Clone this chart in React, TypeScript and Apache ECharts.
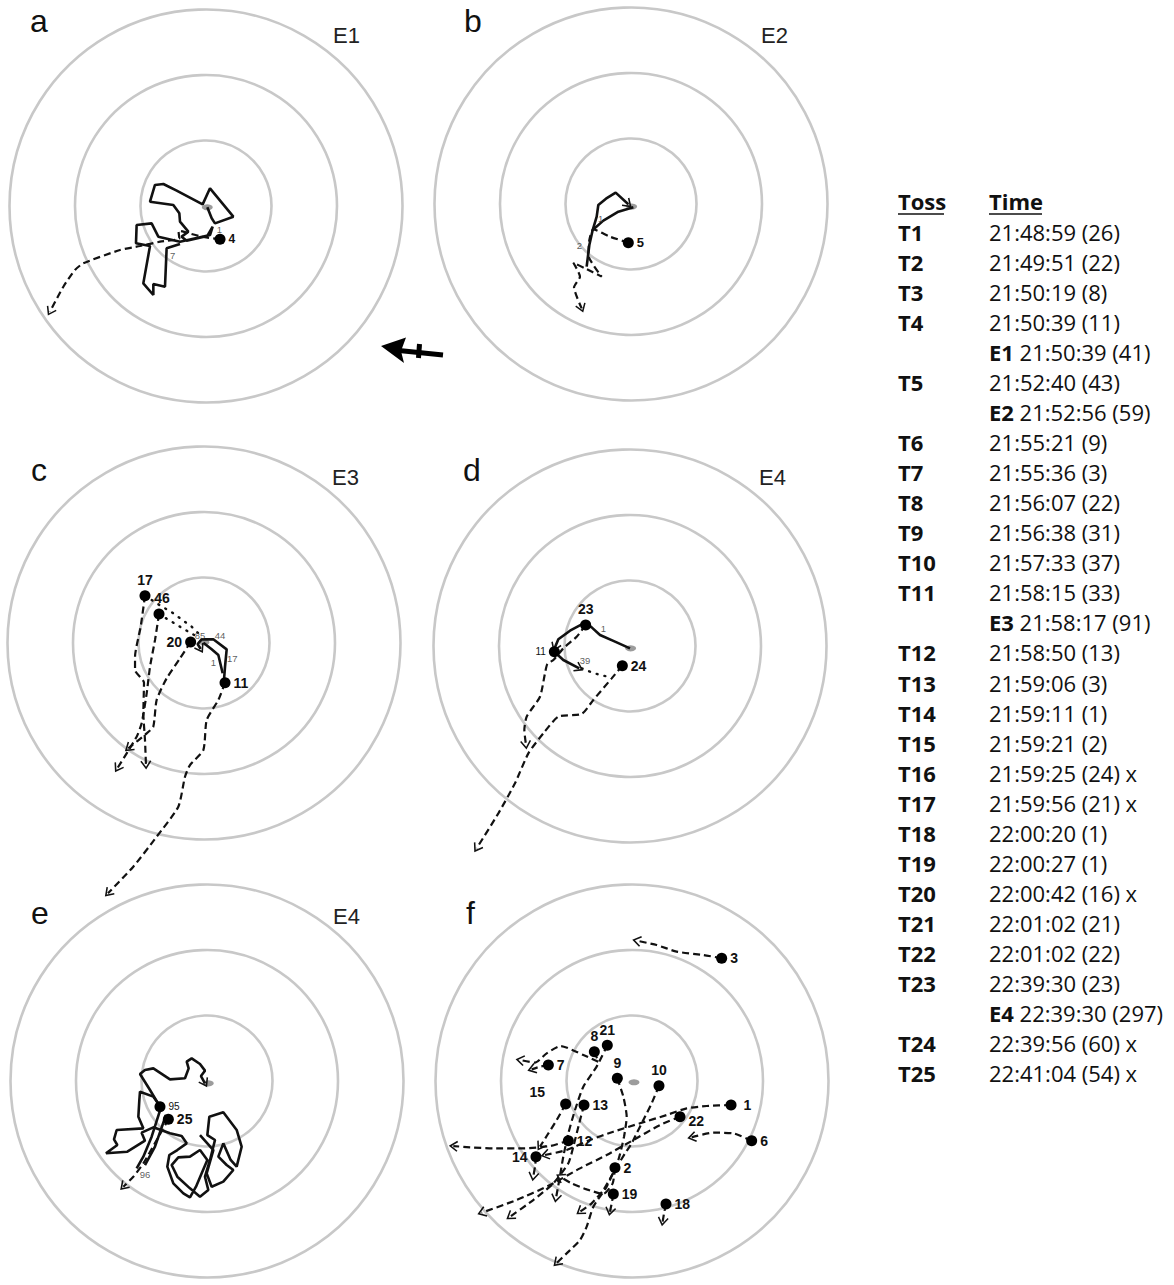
import { useEffect, useRef } from "react";
import * as echarts from "echarts";

type Pt = [number, number];
type Lbl = [string, number, number];

// ---------- DATA (units: ring radii 10 / 20 / 30, x east, y north) ----------
const ringRadii = [10, 20, 30];
const releasePoints: Pt[] = [[0.2, -0.2], [0.1, -0.4], [0, 0.1], [0.1, -0.36], [0.2, -0.36], [0.31, -0.2]];

// panel a
const aE1: Pt[] = [[0.2,-0.2],[0.87,-1.88],[1.37,-2.65],[4.17,-1.63],[0.61,2.7],[-0.51,0.25],[-4.48,2.34],[-6.51,3.36],[-7.79,3.21],[-8.55,0.66],[-4.99,0.15],[-4.07,-1.12],[-3.97,-2.39],[-2.7,-3.92],[-3.72,-4.68],[-2.95,-5.29],[0.2,-4.58],[1.02,-3.16],[0.61,-4.43],[-3.97,-5.45],[-7.28,-4.68],[-8.3,-2.65],[-10.59,-2.9],[-10.69,-5.7],[-8.55,-6.11],[-9.57,-11.81],[-8.04,-13.59],[-8.04,-11.91],[-6.26,-12.32],[-6.01,-6.46],[-3.97,-5.8]];
const aT4: Pt[] = [[2.14,-5.09],[-0.66,-4.68],[-3.46,-3.92],[-4.22,-3.77],[-4.07,-4.94],[-7.02,-5.45],[-10.08,-6.11],[-13.13,-6.72],[-18.73,-8.75],[-20.0,-9.77],[-21.78,-12.32],[-23.82,-16.13]];
const aDots: Lbl[] = [["4", 2.14, -5.09]];
const aMarks: Lbl[] = [["1", 2.04, -3.56], ["7", -5.09, -7.63]];

// panel b
const bE2a: Pt[] = [[-6.77,-9.57],[-6.36,-6.26],[-5.85,-3.97],[-4.22,-2.54],[-1.93,-1.17],[0.36,-0.51]];
const bE2b: Pt[] = [[-5.85,-3.97],[-5.24,-1.93],[-4.99,-0.15],[-3.82,0.81],[-2.34,1.73],[-0.41,-0.05]];
const bT5: Pt[] = [[-0.41,-5.9],[-3.21,-4.99],[-5.75,-3.87],[-6.36,-5.5],[-6.51,-7.79],[-4.48,-11.09],[-7.02,-9.82],[-8.8,-8.96],[-7.79,-11.09],[-8.7,-12.72],[-7.53,-15.93]];
const bDots: Lbl[] = [["5", -0.41, -5.9]];
const bMarks: Lbl[] = [["1", -4.63, -2.19], ["2", -7.89, -6.41]];

// panel c
const cE3a: Pt[] = [[3.05,-5.65],[3.21,-3.61],[3.46,-0.97],[1.42,0.56],[-0.36,0.56],[-0.97,-0.15],[-0.51,-0.92]];
const cE3b: Pt[] = [[-0.1,0.05],[1.17,-0.97],[2.19,-1.83],[2.85,-4.63]];
const c17: Pt[] = [[-9.01,7.23],[-9.67,2.49],[-10.53,-2.09],[-10.53,-4.12],[-9.16,-6.06],[-9.26,-10.74],[-9.01,-14.81],[-8.86,-18.63]];
const c46: Pt[] = [[-6.87,4.43],[-7.48,0.46],[-8.24,-3.61],[-8.75,-7.68],[-9.52,-12.26],[-10.28,-14.3],[-13.23,-19.13]];
const c20: Pt[] = [[-2.04,0.15],[-3.66,-2.34],[-5.7,-5.39],[-7.23,-8.7],[-7.74,-12.77],[-8.75,-13.79],[-11.55,-16.08]];
const c11: Pt[] = [[3.21,-6.06],[2.19,-8.7],[0.41,-11.76],[-0.1,-16.34],[-2.14,-18.63],[-2.9,-20.41],[-3.92,-24.99],[-7.23,-29.57],[-10.79,-34.15],[-14.66,-38.22]];
const c17dots: Pt[] = [[-9.01,7.23],[-7.23,6.06],[-4.68,4.53],[-1.88,2.49],[-0.36,0.97]];
const c46dots: Pt[] = [[-6.87,4.43],[-4.68,3.1],[-2.39,1.73],[-0.61,0.71]];
const cDots: Lbl[] = [["17", -9.01, 7.23], ["46", -6.87, 4.43], ["20", -2.04, 0.15], ["11", 3.21, -6.06]];
const cMarks: Lbl[] = [["85", -0.61, 1.22], ["44", 2.44, 1.22], ["17", 4.33, -2.34], ["1", 1.42, -3.0]];

// panel d
const dE4a: Pt[] = [[0,-0.36],[-2.29,0.66],[-4.58,1.68],[-5.85,2.85],[-6.87,3.56],[-9.16,2.34],[-10.94,1.02],[-11.45,-0.2]];
const dE4b: Pt[] = [[-11.55,-0.87],[-10.18,-2.14],[-7.74,-3.41]];
const dT23: Pt[] = [[-6.77,3.21],[-8.14,1.42],[-10.18,-0.36],[-11.7,-2.14],[-12.62,-2.75],[-12.98,-4.17],[-13.74,-7.74],[-15.78,-10.79],[-16.13,-12.82],[-15.88,-15.11]];
const dT24: Pt[] = [[-1.17,-3.0],[-2.8,-4.94],[-5.6,-8.24],[-7.38,-10.38],[-10.94,-10.79],[-13.23,-13.33],[-15.52,-16.39],[-17.56,-20.97],[-20.1,-25.55],[-23.41,-30.89]];
const dDotted: Pt[] = [[-7.38,-3.41],[-6.11,-3.92],[-4.58,-4.43],[-2.8,-4.78]];
const dDots: Lbl[] = [["23", -6.77, 3.21], ["11", -11.55, -0.87], ["24", -1.17, -3.0]];
const dMarks: Lbl[] = [["1", -4.07, 2.6], ["39", -6.87, -2.14]];

// panel e
const eE4loop: Pt[] = [[-6.92,-4.17],[-8.19,-2.39],[-10.23,-1.63],[-10.33,-2.9],[-10.48,-5.45],[-9.72,-7.23],[-13.79,-7.48],[-14.2,-8.91],[-13.69,-9.77],[-15.42,-11.04],[-12.16,-10.79],[-9.47,-9.11],[-9.98,-7.89],[-8.19,-7.07],[-5.65,-7.99],[-3.87,-8.4],[-3.1,-9.52],[-4.53,-10.54],[-5.75,-11.3],[-6.06,-13.08],[-5.14,-15.63],[-3.61,-17.15],[-2.6,-17.76],[-1.68,-16.14],[-0.81,-14.1],[0.05,-12.06],[-1.07,-10.54],[-2.6,-11.55],[-4.38,-11.66],[-5.4,-12.83],[-4.53,-14.61],[-2.6,-16.39],[-1.07,-17.66],[0.2,-16.64],[-0.31,-14.61],[0.46,-12.06],[1.22,-9.01],[0.05,-8.25],[0.36,-5.45],[2.49,-4.78],[4.53,-7.48],[5.29,-10.03],[4.53,-13.08],[3.61,-12.06],[2.49,-9.52],[1.73,-11.55],[3.0,-12.83],[4.02,-13.59],[2.49,-15.37],[0.71,-16.14],[-0.05,-14.1],[0.97,-10.54],[-1.07,-8.25]];
const eE4top: Pt[] = [[-7.18,-3.92],[-8.7,-1.37],[-10.23,1.07],[-9.47,1.68],[-8.19,1.93],[-5.65,0.25],[-3.36,0.41],[-2.8,1.93],[-3.1,2.95],[-2.34,3.46],[-1.07,2.6],[-0.31,1.58],[-0.92,0.76],[-0.31,-0.36]];
const eE4legA: Pt[] = [[-7.07,-4.17],[-8.45,-8.5],[-9.72,-11.55],[-10.74,-13.33]];
const eE4legB: Pt[] = [[-6.26,-5.19],[-7.94,-10.03],[-9.47,-12.83]];
const eT25: Pt[] = [[-5.9,-5.85],[-7.68,-9.01],[-9.72,-12.57],[-11.25,-14.61],[-12.77,-16.14]];
const eDots: Lbl[] = [["95", -7.18, -3.92], ["25", -5.9, -5.85]];
const eMarks: Lbl[] = [["96", -9.47, -14.2]];

// panel f (tosses T1..T22 that were not escorted)
const fT1: Pt[] = [[15.12,-3.66],[11.4,-3.82],[8.35,-4.17],[5.29,-5.19],[1.22,-6.46],[-2.85,-7.74],[-6.41,-9.01],[-9.98,-10.54],[-13.28,-11.3]];
const fT2: Pt[] = [[-2.6,-13.23],[-2.95,-15.63],[-4.38,-17.25],[-6.92,-16.54],[-9.21,-15.63],[-10.99,-14.61]];
const fT3: Pt[] = [[13.69,18.73],[10.89,19.24],[6.82,19.75],[3.77,20.76],[0.71,21.42]];
const fT6: Pt[] = [[18.27,-9.11],[15.47,-7.99],[12.42,-7.89],[9.11,-8.6]];
const fT7: Pt[] = [[-12.77,2.44],[-14.05,2.19],[-15.32,1.78]];
const fT8: Pt[] = [[-5.75,4.48],[-5.14,2.95],[-7.43,3.97],[-10.89,5.34],[-13.03,4.22],[-14.81,2.8],[-17.1,3.21]];
const fT9: Pt[] = [[-2.24,0.41],[-1.32,-2.39],[-0.81,-5.45],[-1.22,-8.5],[-2.09,-12.06],[-3.87,-16.14],[-5.9,-19.19],[-6.92,-22.24],[-7.94,-24.28],[-9.98,-26.32],[-11.5,-27.79]];
const fT10: Pt[] = [[4.12,-0.71],[3.0,-3.41],[1.73,-5.96],[0.71,-7.99],[-0.05,-9.52],[-1.07,-11.05],[-2.6,-13.59],[-4.38,-16.64],[-6.16,-18.68],[-7.94,-19.95]];
const fT12: Pt[] = [[-9.72,-9.11],[-12.52,-9.93],[-16.59,-10.28],[-21.17,-10.28],[-24.74,-10.13],[-27.28,-9.93]];
const fT13: Pt[] = [[-7.33,-3.66],[-8.19,-6.97],[-8.96,-10.03],[-9.72,-12.57],[-12.01,-15.63],[-15.07,-18.17],[-18.63,-20.72]];
const fT14: Pt[] = [[-14.66,-11.55],[-14.81,-13.08],[-15.07,-14.61]];
const fT15: Pt[] = [[-10.13,-3.51],[-11.5,-5.96],[-12.93,-8.25],[-14.05,-10.03]];
const fT18: Pt[] = [[5.19,-18.78],[4.89,-20.21],[4.68,-21.48]];
const fT19: Pt[] = [[-2.85,-17.25],[-3.1,-18.68],[-3.36,-19.95]];
const fT21: Pt[] = [[-3.77,5.45],[-5.4,2.19],[-7.43,-0.87],[-8.7,-4.43],[-9.72,-7.99],[-10.49,-11.55],[-11.1,-15.12],[-11.61,-17.92]];
const fT22: Pt[] = [[7.33,-5.45],[4.28,-6.72],[0.2,-9.01],[-3.87,-11.3],[-7.94,-13.34],[-12.52,-15.88],[-17.61,-18.17],[-22.96,-20.11]];
const fDots: Lbl[] = [["1",15.12,-3.66],["2",-2.6,-13.23],["3",13.69,18.73],["6",18.27,-9.11],["7",-12.77,2.44],["8",-5.75,4.48],["9",-2.24,0.41],["10",4.12,-0.71],["12",-9.72,-9.11],["13",-7.33,-3.66],["14",-14.66,-11.55],["15",-10.13,-3.51],["18",5.19,-18.78],["19",-2.85,-17.25],["21",-3.77,5.45],["22",7.33,-5.45]];

// table
const tableToss = ["T1","T2","T3","T4","","T5","","T6","T7","T8","T9","T10","T11","","T12","T13","T14","T15","T16","T17","T18","T19","T20","T21","T22","T23","","T24","T25"];
const tableEvent = ["","","","","E1","","E2","","","","","","","E3","","","","","","","","","","","","","E4","",""];
const tableTime = ["21:48:59 (26)","21:49:51 (22)","21:50:19 (8)","21:50:39 (11)","21:50:39 (41)","21:52:40 (43)","21:52:56 (59)","21:55:21 (9)","21:55:36 (3)","21:56:07 (22)","21:56:38 (31)","21:57:33 (37)","21:58:15 (33)","21:58:17 (91)","21:58:50 (13)","21:59:06 (3)","21:59:11 (1)","21:59:21 (2)","21:59:25 (24) x","21:59:56 (21) x","22:00:20 (1)","22:00:27 (1)","22:00:42 (16) x","22:01:02 (21)","22:01:02 (22)","22:39:30 (23)","22:39:30 (297)","22:39:56 (60) x","22:41:04 (54) x"];

const panelLetters = ["a", "b", "c", "d", "e", "f"];
const panelTags = ["E1", "E2", "E3", "E4", "E4", ""];

// ---------- LAYOUT ----------
const PX = 6.55; // px per unit
const CENTERS: Pt[] = [[206, 206], [631, 204], [204, 643], [630, 646], [207, 1081], [632, 1081]];
const LETTER_POS: Pt[] = [[30, 21], [464, 21], [31, 470], [463, 470], [31, 913], [466, 913]];
const TAG_POS: Pt[] = [[333, 35], [761, 35], [332, 477], [759, 477], [333, 916], [0, 0]];

type Kind = "solid" | "dashed" | "dotted";
type Traj = { panel: number; pts: Pt[]; kind: Kind; arrow: boolean };
const TRAJ: Traj[] = [
  { panel: 0, pts: aE1, kind: "solid", arrow: false },
  { panel: 0, pts: aT4, kind: "dashed", arrow: true },
  { panel: 1, pts: bE2a, kind: "solid", arrow: false },
  { panel: 1, pts: bE2b, kind: "solid", arrow: true },
  { panel: 1, pts: bT5, kind: "dashed", arrow: true },
  { panel: 2, pts: cE3a, kind: "solid", arrow: true },
  { panel: 2, pts: cE3b, kind: "solid", arrow: false },
  { panel: 2, pts: c17, kind: "dashed", arrow: true },
  { panel: 2, pts: c46, kind: "dashed", arrow: true },
  { panel: 2, pts: c20, kind: "dashed", arrow: true },
  { panel: 2, pts: c11, kind: "dashed", arrow: true },
  { panel: 2, pts: c17dots, kind: "dotted", arrow: false },
  { panel: 2, pts: c46dots, kind: "dotted", arrow: false },
  { panel: 3, pts: dE4a, kind: "solid", arrow: true },
  { panel: 3, pts: dE4b, kind: "solid", arrow: true },
  { panel: 3, pts: dT23, kind: "dashed", arrow: true },
  { panel: 3, pts: dT24, kind: "dashed", arrow: true },
  { panel: 3, pts: dDotted, kind: "dotted", arrow: false },
  { panel: 4, pts: eE4loop, kind: "solid", arrow: false },
  { panel: 4, pts: eE4top, kind: "solid", arrow: true },
  { panel: 4, pts: eE4legA, kind: "solid", arrow: false },
  { panel: 4, pts: eE4legB, kind: "solid", arrow: false },
  { panel: 4, pts: eT25, kind: "dashed", arrow: true },
  ...[fT1, fT2, fT3, fT6, fT7, fT8, fT9, fT10, fT12, fT13, fT14, fT15, fT18, fT19, fT21, fT22].map(
    (pts) => ({ panel: 5, pts, kind: "dashed" as Kind, arrow: true })
  ),
];

type LL = { pos: string; size: number; bold: boolean; offset?: [number, number] };
const BIG: LL = { pos: "right", size: 14, bold: true };
const LABEL_LAYOUT: Record<string, LL> = {
  a4: { pos: "right", size: 12, bold: true },
  b5: { pos: "right", size: 13, bold: true },
  c17: { pos: "top", size: 14, bold: true },
  c46: { pos: "top", size: 14, bold: true, offset: [3, 0] },
  c20: { pos: "left", size: 14, bold: true },
  c11: BIG,
  d23: { pos: "top", size: 14, bold: true },
  d11: { pos: "left", size: 10, bold: false },
  d24: BIG,
  e95: { pos: "right", size: 10, bold: false },
  e25: BIG,
  f1: { pos: "right", size: 14, bold: true, offset: [4, 0] },
  f2: BIG, f3: BIG, f6: BIG, f7: BIG, f12: BIG, f13: BIG, f18: BIG, f19: BIG,
  f22: { pos: "right", size: 14, bold: true, offset: [0, 4] },
  f14: { pos: "left", size: 14, bold: true },
  f15: { pos: "left", size: 14, bold: true, offset: [-12, -12] },
  f8: { pos: "top", size: 14, bold: true },
  f9: { pos: "top", size: 14, bold: true },
  f10: { pos: "top", size: 14, bold: true },
  f21: { pos: "top", size: 14, bold: true },
};

const SANS = "'Liberation Sans', Arial, sans-serif";
const TABLE_FONT = "'Open Sans', 'Noto Sans', sans-serif";
const CHEVRON = "path://M0,0L9,13L7,14.5L0,4.5L-7,14.5L-9,13Z";

function buildOption() {
  const panelCount = CENTERS.length;
  const grid = CENTERS.map(([cx, cy]) => ({
    left: cx - 30 * PX, top: cy - 30 * PX, width: 60 * PX, height: 60 * PX,
  }));
  const axis = CENTERS.map((_, i) => ({ type: "value", gridIndex: i, min: -30, max: 30, show: false }));
  const series: any[] = [];

  for (let i = 0; i < panelCount; i++) {
    series.push({
      type: "custom", xAxisIndex: i, yAxisIndex: i, silent: true, z: 1, clip: false,
      data: ringRadii.map((r) => [r, 0]),
      renderItem: (_p: any, api: any) => {
        const c = api.coord([0, 0]);
        const e = api.coord([api.value(0), 0]);
        return {
          type: "circle",
          shape: { cx: c[0], cy: c[1], r: Math.abs(e[0] - c[0]) },
          style: { fill: "none", stroke: "#c8c8c8", lineWidth: 2.6 },
        };
      },
    });
    series.push({
      type: "scatter", xAxisIndex: i, yAxisIndex: i, silent: true, z: 2, clip: false,
      symbol: "circle", symbolSize: [11, 6], itemStyle: { color: "#9c9c9c", opacity: 1 },
      data: [releasePoints[i]],
    });
  }

  TRAJ.forEach((t) => {
    series.push({
      type: "line", xAxisIndex: t.panel, yAxisIndex: t.panel, data: t.pts,
      showSymbol: false, symbol: "none", clip: false, silent: true, z: 3,
      smooth: t.kind === "dashed" ? 0.2 : false,
      lineStyle: {
        color: "#111",
        width: t.kind === "solid" ? 2.6 : t.kind === "dashed" ? 2.2 : 2.4,
        type: t.kind === "solid" ? "solid" : t.kind === "dashed" ? [7, 4] : [1, 7],
        cap: t.kind === "dotted" ? "round" : "butt",
        opacity: 1,
      },
      emphasis: { disabled: true },
    });
  });

  for (let i = 0; i < panelCount; i++) {
    const arrows = TRAJ.filter((t) => t.panel === i && t.arrow).map((t) => {
      const n = t.pts.length;
      const p1 = t.pts[n - 2];
      const p2 = t.pts[n - 1];
      const ang = (Math.atan2(p2[1] - p1[1], p2[0] - p1[0]) * 180) / Math.PI;
      return { value: p2, symbolRotate: ang - 90 };
    });
    series.push({
      type: "scatter", xAxisIndex: i, yAxisIndex: i, silent: true, z: 4, clip: false,
      symbol: CHEVRON, symbolSize: [11, 9], itemStyle: { color: "#111", opacity: 1 }, data: arrows,
    });
  }

  const dotSets = [aDots, bDots, cDots, dDots, eDots, fDots];
  const markSets = [aMarks, bMarks, cMarks, dMarks, eMarks, []];
  dotSets.forEach((dots, i) => {
    series.push({
      type: "scatter", xAxisIndex: i, yAxisIndex: i, silent: true, z: 6, clip: false,
      symbol: "circle", symbolSize: 11, itemStyle: { color: "#000", opacity: 1 },
      data: dots.map(([n, x, y]) => {
        const L = LABEL_LAYOUT[panelLetters[i] + n] || BIG;
        return {
          value: [x, y],
          label: {
            show: true, formatter: n, position: L.pos, offset: L.offset || [0, 0], distance: 3,
            fontSize: L.size, fontWeight: L.bold ? "bold" : "normal", color: "#111", fontFamily: SANS,
          },
        };
      }),
    });
  });
  markSets.forEach((marks, i) => {
    if (!marks.length) return;
    series.push({
      type: "scatter", xAxisIndex: i, yAxisIndex: i, silent: true, z: 6, clip: false,
      symbolSize: 1, itemStyle: { color: "rgba(0,0,0,0)" },
      data: marks.map(([n, x, y]) => ({
        value: [x, y],
        label: { show: true, formatter: n, position: "inside", fontSize: 9.5, color: "#333", fontFamily: SANS },
      })),
    });
  });

  const elements: any[] = [];
  panelLetters.forEach((l, i) => {
    elements.push({
      type: "text", x: LETTER_POS[i][0], y: LETTER_POS[i][1], silent: true,
      style: { text: l, fontSize: 32, fontFamily: SANS, fill: "#111", verticalAlign: "middle" },
    });
    if (panelTags[i]) {
      elements.push({
        type: "text", x: TAG_POS[i][0], y: TAG_POS[i][1], silent: true,
        style: { text: panelTags[i], fontSize: 22, fontFamily: SANS, fill: "#222", verticalAlign: "middle" },
      });
    }
  });

  // table
  const X1 = 898, X2 = 989, Y0 = 231.5, STEP = 30.07;
  elements.push({
    type: "text", x: X1, y: 201, silent: true,
    style: { text: "Toss", fontSize: 22, fontWeight: "bold", fontFamily: TABLE_FONT, fill: "#111", verticalAlign: "middle" },
  });
  elements.push({
    type: "text", x: X2, y: 201, silent: true,
    style: { text: "Time", fontSize: 22, fontWeight: "bold", fontFamily: TABLE_FONT, fill: "#111", verticalAlign: "middle" },
  });
  elements.push({ type: "line", silent: true, shape: { x1: X1, y1: 214, x2: 944, y2: 214 }, style: { stroke: "#111", lineWidth: 1.6 } });
  elements.push({ type: "line", silent: true, shape: { x1: X2, y1: 214, x2: 1042, y2: 214 }, style: { stroke: "#111", lineWidth: 1.6 } });
  tableTime.forEach((tm, i) => {
    const y = Y0 + STEP * i;
    if (tableToss[i]) {
      elements.push({
        type: "text", x: X1, y, silent: true,
        style: { text: tableToss[i], fontSize: 22, fontWeight: "bold", fontFamily: TABLE_FONT, fill: "#111", verticalAlign: "middle" },
      });
    }
    const txt = tableEvent[i] ? `{b|${tableEvent[i]}}{n| ${tm}}` : `{n|${tm}}`;
    elements.push({
      type: "text", x: X2, y, silent: true,
      style: {
        text: txt, fontSize: 22, fontFamily: TABLE_FONT, fill: "#111", verticalAlign: "middle",
        rich: {
          b: { fontSize: 22, fontWeight: "bold", fontFamily: TABLE_FONT, fill: "#111" },
          n: { fontSize: 22, fontWeight: "normal", fontFamily: TABLE_FONT, fill: "#111" },
        },
      },
    });
  });

  // wind arrow
  elements.push({ type: "line", silent: true, shape: { x1: 399, y1: 350.5, x2: 443, y2: 355 }, style: { stroke: "#000", lineWidth: 5 } });
  elements.push({ type: "line", silent: true, shape: { x1: 419.5, y1: 344, x2: 418.5, y2: 358 }, style: { stroke: "#000", lineWidth: 5 } });
  elements.push({
    type: "polygon", silent: true,
    shape: { points: [[381, 346], [406, 337.5], [401, 351], [404, 363]] },
    style: { fill: "#000" },
  });

  return {
    animation: false,
    backgroundColor: "#fff",
    grid, xAxis: axis, yAxis: axis.map((a) => ({ ...a })),
    series,
    graphic: { elements },
  };
}

export default function App() {
  const ref = useRef<HTMLDivElement>(null);
  useEffect(() => {
    if (!ref.current) return;
    const chart = echarts.init(ref.current, undefined, { renderer: "svg" });
    chart.setOption(buildOption() as any);
    return () => chart.dispose();
  }, []);
  return (
    <div
      ref={ref}
      style={{ position: "absolute", left: 0, top: 0, width: 1174, height: 1285, background: "#fff" }}
    />
  );
}
